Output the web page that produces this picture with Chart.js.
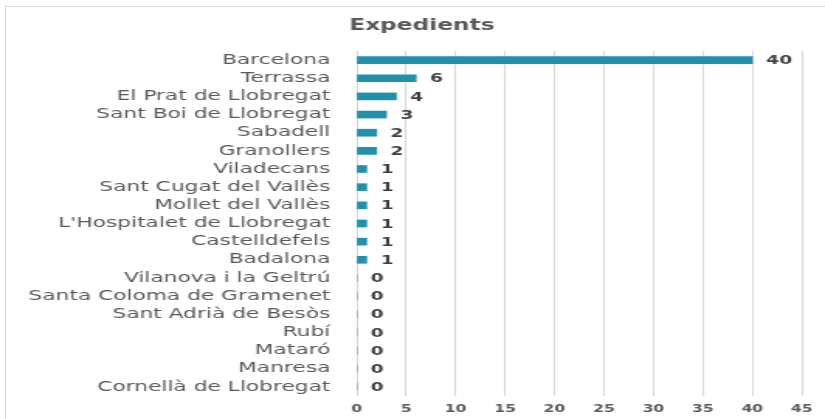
<!DOCTYPE html>
<html>
<head>
<meta charset="utf-8">
<script src="https://cdn.jsdelivr.net/npm/chart.js@4.4.0/dist/chart.umd.min.js"></script>
<style>
  html, body { margin: 0; padding: 0; background: #fff; }
  body { width: 825px; height: 419px; overflow: hidden; position: relative; }
  /* the original picture is a horizontally stretched Excel chart */
  #wrap { position: absolute; left: 0; top: 0; width: 532px; height: 419px;
          transform: scaleX(1.5508); transform-origin: 0 0; }
  #frame { position: absolute; left: 5px; top: 6px; width: 900px; height: 500px;
           border-left: 1px solid #d9d9d9; border-top: 1px solid #d9d9d9; }
</style>
</head>
<body>
<div id="frame"></div>
<div id="wrap"><canvas id="chart"></canvas></div>
<script>
const cities = [
  'Barcelona', 'Terrassa', 'El Prat de Llobregat', 'Sant Boi de Llobregat',
  'Sabadell', 'Granollers', 'Viladecans', 'Sant Cugat del Vallès',
  'Mollet del Vallès', "L'Hospitalet de Llobregat", 'Castelldefels', 'Badalona',
  'Vilanova i la Geltrú', 'Santa Coloma de Gramenet', 'Sant Adrià de Besòs',
  'Rubí', 'Mataró', 'Manresa', 'Cornellà de Llobregat'
];
const expedients = [40, 6, 4, 3, 2, 2, 1, 1, 1, 1, 1, 1, 0, 0, 0, 0, 0, 0, 0];
const chartTitle = 'Expedients';

// title sits a little right of the canvas centre, as in the Excel original
const titlePlugin = {
  id: 'titlePlugin',
  afterDraw(chart) {
    const ctx = chart.ctx;
    ctx.save();
    ctx.font = 'bold 15px "DejaVu Sans"';
    ctx.fillStyle = '#595959';
    ctx.textAlign = 'center';
    ctx.textBaseline = 'middle';
    ctx.fillText(chartTitle, 272, 26);
    ctx.restore();
  }
};

// values written just past the end of each bar
const barLabels = {
  id: 'barLabels',
  afterDatasetsDraw(chart) {
    const ctx = chart.ctx;
    const meta = chart.getDatasetMeta(0);
    ctx.save();
    ctx.font = 'bold 12px "DejaVu Sans"';
    ctx.fillStyle = '#404040';
    ctx.textAlign = 'left';
    ctx.textBaseline = 'middle';
    meta.data.forEach((bar, i) => {
      ctx.fillText(String(expedients[i]), bar.x + 9, bar.y + 1);
    });
    ctx.restore();
  }
};

new Chart(document.getElementById('chart'), {
  type: 'bar',
  data: {
    labels: cities,
    datasets: [{
      data: expedients,
      backgroundColor: '#2190aa',
      barThickness: 7
    }]
  },
  options: {
    indexAxis: 'y',
    responsive: true,
    maintainAspectRatio: false,
    animation: false,
    layout: { padding: { left: 0, right: 15, top: 51, bottom: 0 } },
    plugins: {
      legend: { display: false },
      tooltip: { enabled: false },
      title: { display: false }
    },
    scales: {
      x: {
        min: 0,
        max: 45,
        ticks: {
          stepSize: 5,
          color: '#595959',
          font: { family: 'DejaVu Sans', size: 10, weight: 'bold' },
          padding: 7
        },
        grid: { color: '#d9d9d9', drawTicks: false },
        border: { display: false },
        afterFit(scale) { scale.height = 23; }
      },
      y: {
        ticks: {
          color: '#595959',
          font: { family: 'DejaVu Sans', size: 14 },
          padding: 17,
          autoSkip: false
        },
        grid: { display: false, drawTicks: false },
        border: { display: false },
        afterFit(scale) {
          scale.width = 230;
          scale.paddingTop = 0;
          scale.paddingBottom = 0;
        }
      }
    }
  },
  plugins: [barLabels, titlePlugin]
});
</script>
</body>
</html>
